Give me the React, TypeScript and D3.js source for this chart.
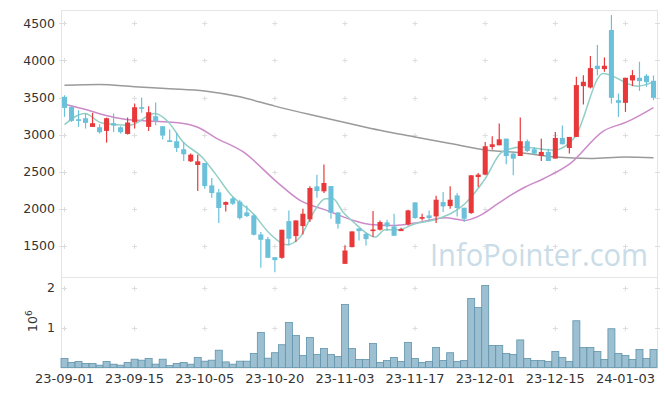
import React from "react";
import * as d3 from "d3";

const dates: string[] = [
  "23-09-01","23-09-04","23-09-05","23-09-06","23-09-07","23-09-08","23-09-11","23-09-12","23-09-13","23-09-14",
  "23-09-15","23-09-18","23-09-19","23-09-20","23-09-21","23-09-22","23-09-25","23-09-26","23-09-27",
  "23-10-04","23-10-05","23-10-06","23-10-10","23-10-11","23-10-12","23-10-13","23-10-16","23-10-17","23-10-18",
  "23-10-19","23-10-20","23-10-23","23-10-24","23-10-25","23-10-26","23-10-27","23-10-30","23-10-31",
  "23-11-01","23-11-02","23-11-03","23-11-06","23-11-07","23-11-08","23-11-09","23-11-10","23-11-13","23-11-14",
  "23-11-15","23-11-16","23-11-17","23-11-20","23-11-21","23-11-22","23-11-23","23-11-24","23-11-27","23-11-28",
  "23-11-29","23-11-30",
  "23-12-01","23-12-04","23-12-05","23-12-06","23-12-07","23-12-08","23-12-11","23-12-12","23-12-13","23-12-14",
  "23-12-15","23-12-18","23-12-19","23-12-20","23-12-21","23-12-22","23-12-26","23-12-27","23-12-28",
  "24-01-02","24-01-03","24-01-04","24-01-05","24-01-08","24-01-09",
];

const xTickLabels: string[] = ["23-09-01","23-09-15","23-10-05","23-10-20","23-11-03","23-11-17","23-12-01","23-12-15","24-01-03"];
const priceTicks: number[] = [1500, 2000, 2500, 3000, 3500, 4000, 4500];
const volumeTicks: number[] = [1, 2];

const opens: number[] = [
  3510,3375,3208,3222,3105,3100,3051,3155,3100,3010,
  3168,3370,3105,3249,3114,2925,2912,2804,2641,2592,
  2619,2317,2223,2056,2142,2097,1953,1913,1656,1593,
  1350,1341,1836,1634,1769,1859,2304,2237,2308,1953,
  1260,1485,1737,1665,1701,1719,1818,1764,1701,1791,
  2088,1868,1913,1899,2092,2038,2182,2016,1944,2430,
  2462,2835,2857,2947,2745,2713,2912,2804,2713,2768,
  2678,2956,2821,2970,3654,3636,3929,3884,4410,3465,
  3429,3731,3767,3794,3726,
];
const highs: number[] = [
  3532,3385,3330,3285,3294,3141,3230,3285,3114,3231,
  3420,3501,3384,3433,3114,3069,3024,2902,2745,2731,
  2619,2416,2270,2101,2160,2124,2047,1935,1688,1620,
  1350,1719,1980,1845,2002,2304,2462,2597,2308,1953,
  1508,1697,1737,1680,1971,1845,1854,1935,1746,1989,
  2088,1935,1980,2178,2227,2304,2214,2016,2453,2484,
  2902,2979,3150,2947,2767,3231,2934,2835,2947,2812,
  3037,3123,2970,3780,3802,4059,4207,4041,4612,3555,
  3767,3870,3983,3816,3798,
];
const lows: number[] = [
  3240,3172,3105,3083,3105,3015,2893,3037,3015,3001,
  3083,3294,3051,3128,2934,2902,2767,2646,2632,2241,
  2272,2151,1809,1966,2052,1858,1890,1643,1206,1341,
  1148,1328,1508,1553,1656,1823,2151,2214,1867,1733,
  1260,1485,1575,1508,1620,1710,1701,1638,1701,1778,
  1868,1845,1845,1809,1958,2002,1899,1823,1935,2295,
  2452,2799,2857,2601,2453,2713,2767,2736,2646,2646,
  2678,2871,2745,2970,3406,3622,3798,3848,3420,3240,
  3307,3654,3591,3645,3465,
];
const closes: number[] = [
  3361,3186,3186,3159,3155,3033,3222,3123,3033,3164,
  3370,3348,3303,3186,2988,2902,2822,2736,2731,2641,
  2308,2214,2012,2092,2070,1877,1904,1652,1584,1341,
  1310,1719,1598,1845,1935,2282,2241,2349,1948,1800,
  1440,1697,1701,1593,1723,1823,1764,1638,1728,1980,
  1877,1890,1877,2124,2034,2124,2012,1868,2453,2462,
  2844,2871,2938,2713,2677,2912,2781,2745,2768,2646,
  2956,2871,2970,3668,3713,3897,3884,3929,3497,3429,
  3767,3802,3722,3708,3497,
];

const volumeMillions: number[] = [
  0.225,0.125,0.15,0.1,0.1,0.058,0.15,0.083,0.058,0.125,
  0.208,0.183,0.225,0.083,0.208,0.05,0.1,0.125,0.083,0.25,
  0.158,0.183,0.433,0.14,0.083,0.158,0.158,0.35,0.875,0.233,
  0.37,0.57,1.125,0.8,0.3,0.75,0.325,0.475,0.325,0.275,
  1.58,0.475,0.2,0.2,0.6,0.125,0.175,0.25,0.15,0.625,
  0.225,0.125,0.15,0.5,0.175,0.37,0.15,0.175,1.725,1.5,
  2.05,0.55,0.55,0.35,0.325,0.69,0.225,0.175,0.175,0.15,
  0.4,0.25,0.15,1.17,0.5,0.5,0.4,0.2,0.97,0.35,
  0.3,0.2,0.45,0.225,0.45,
];

// moving averages (position in trading-day index, value)
const maShortIdx: number[] = [0,2.9,5.3,9.3,12.9,14.8,16.9,19.6,21.5,23.6,26.9,29.3,31.7,33.6,35.4,37.2,38.3,39.7,41.2,43.6,44.3,45.7,47.6,50,53.3,57.1,60,62.4,65.3,69.7,72.8,76.8,81.7,84];
const maShortVal: number[] = [3136,3285,3159,3128,3285,3172,2902,2700,2475,2205,1935,1665,1516,1620,1935,2137,2137,1958,1823,1643,1620,1719,1719,1800,1868,2070,2407,2767,2835,2790,2970,3825,3654,3712];

const maMidIdx: number[] = [0,3.4,5.8,8.6,12.9,17.6,19,21.5,25.5,30.3,33.6,37.4,41.2,43.6,47.1,50,54.3,57.1,59,61.8,63.6,65.7,68.3,72.1,76.8,80.2,84];
const maMidVal: number[] = [3411,3330,3262,3208,3181,3141,3100,2961,2767,2362,2115,1980,1845,1791,1778,1809,1881,1845,1899,2070,2182,2295,2407,2610,3046,3172,3366];

const maLongIdx: number[] = [0,5,10,15,20,25,30,35,40,45,50,55,60,65,70,75,80,84];
const maLongVal: number[] = [3667,3676,3645,3620,3590,3510,3385,3271,3165,3060,2970,2880,2795,2758,2700,2680,2698,2691];

const W = 665, H = 396;
const left = 61, right = 657;
const priceTop = 10, priceBottom = 277.5;
const volTop = 278, volBottom = 367.5;

const UP = "#e8383a";
const DOWN = "#6bc1d9";
const FONT = "'DejaVu Sans', sans-serif";

export default function App() {
  const x = d3.scaleBand<string>().domain(dates).range([left, right]).padding(0);
  const bw = x.bandwidth();
  const cx = (i: number) => (x(dates[i]) as number) + bw / 2;
  const xi = d3.scaleLinear().domain([0, dates.length - 1]).range([cx(0), cx(dates.length - 1)]);
  const y = d3.scaleLinear().domain([1076, 4680]).range([priceBottom, priceTop]);
  const yv = d3.scaleLinear().domain([0, 2.24]).range([volBottom, volTop]);

  const maLine = (idx: number[], val: number[]) =>
    d3.line<number>().x((_, k) => xi(idx[k])).y((v) => y(v)).curve(d3.curveMonotoneX)(val) || "";

  const tickXs = xTickLabels.map((lab) => cx(dates.indexOf(lab)));
  const grid = "#dddddd";
  const frame = "#e4e4e4";
  const bodyW = bw * 0.72;

  const crosses: React.ReactNode[] = [];
  const addCross = (px: number, py: number, key: string) => {
    crosses.push(
      <g key={key} stroke={grid} strokeWidth={1}>
        <line x1={px - 2.5} x2={px + 2.5} y1={py} y2={py} />
        <line x1={px} x2={px} y1={py - 2.5} y2={py + 2.5} />
      </g>
    );
  };
  tickXs.forEach((tx, a) => {
    priceTicks.forEach((t, b) => addCross(tx, Math.round(y(t)) + 0.5, `p${a}-${b}`));
    volumeTicks.forEach((t, b) => addCross(tx, Math.round(yv(t)) + 0.5, `v${a}-${b}`));
  });

  return (
    <svg width={W} height={H} style={{ position: "absolute", left: 0, top: 0, background: "#fff" }} fontFamily={FONT}>
      <rect x={0} y={0} width={W} height={H} fill="#fff" />
      {crosses}
      {/* watermark */}
      <text x={430} y={266} fontSize={31} fill="#c9dce7" fontFamily="'Open Sans', sans-serif" textLength={218} lengthAdjust="spacingAndGlyphs">InfoPointer.com</text>

      {/* frames */}
      <rect x={left + 0.5} y={priceTop + 0.5} width={right - left} height={volBottom - priceTop} fill="none" stroke={frame} strokeWidth={1} />
      <line x1={left} x2={right} y1={priceBottom} y2={priceBottom} stroke={frame} />
      {priceTicks.map((t) => (
        <g key={"yt" + t}>
          <line x1={left - 2} x2={left + 3} y1={Math.round(y(t)) + 0.5} y2={Math.round(y(t)) + 0.5} stroke={grid} />
          <line x1={right - 2} x2={right + 3} y1={Math.round(y(t)) + 0.5} y2={Math.round(y(t)) + 0.5} stroke={grid} />
          <text x={55} y={y(t)} dy="0.35em" textAnchor="end" fontSize={12.5} fill="#333">{t}</text>
        </g>
      ))}
      {volumeTicks.map((t) => (
        <g key={"vt" + t}>
          <line x1={right - 2} x2={right + 3} y1={Math.round(yv(t)) + 0.5} y2={Math.round(yv(t)) + 0.5} stroke={grid} />
          <text x={55} y={yv(t)} dy="0.35em" textAnchor="end" fontSize={12.5} fill="#333">{t}</text>
        </g>
      ))}
      <text transform="translate(37,332) rotate(-90)" fontSize={12.5} fill="#333">
        10<tspan dy={-5} fontSize={9}>6</tspan>
      </text>

      {/* moving averages */}
      <path d={maLine(maLongIdx, maLongVal)} fill="none" stroke="#9a9a9a" strokeWidth={1.5} />
      <path d={maLine(maMidIdx, maMidVal)} fill="none" stroke="#cc8ac9" strokeWidth={1.5} />
      <path d={maLine(maShortIdx, maShortVal)} fill="none" stroke="#92cfc6" strokeWidth={1.5} />

      {/* candles */}
      {dates.map((d, i) => {
        const o = opens[i], c = closes[i];
        const col = c >= o ? UP : DOWN;
        const top = y(Math.max(o, c));
        const bot = y(Math.min(o, c));
        return (
          <g key={"c" + d}>
            <line x1={cx(i)} x2={cx(i)} y1={y(highs[i])} y2={y(lows[i])} stroke={col} strokeWidth={1.2} />
            <rect x={cx(i) - bodyW / 2} y={top} width={bodyW} height={Math.max(1.5, bot - top)} fill={col} />
          </g>
        );
      })}

      {/* volume */}
      {dates.map((d, i) => (
        <rect key={"v" + d} x={x(d) as number} y={yv(volumeMillions[i])} width={bw} height={volBottom - yv(volumeMillions[i])}
          fill="#9cc0d1" stroke="#5f93ab" strokeWidth={0.8} />
      ))}

      {/* x tick labels */}
      {xTickLabels.map((lab, k) => (
        <text key={"xl" + lab} x={tickXs[k]} y={383} textAnchor="middle" fontSize={13} fill="#333">{lab}</text>
      ))}
    </svg>
  );
}
